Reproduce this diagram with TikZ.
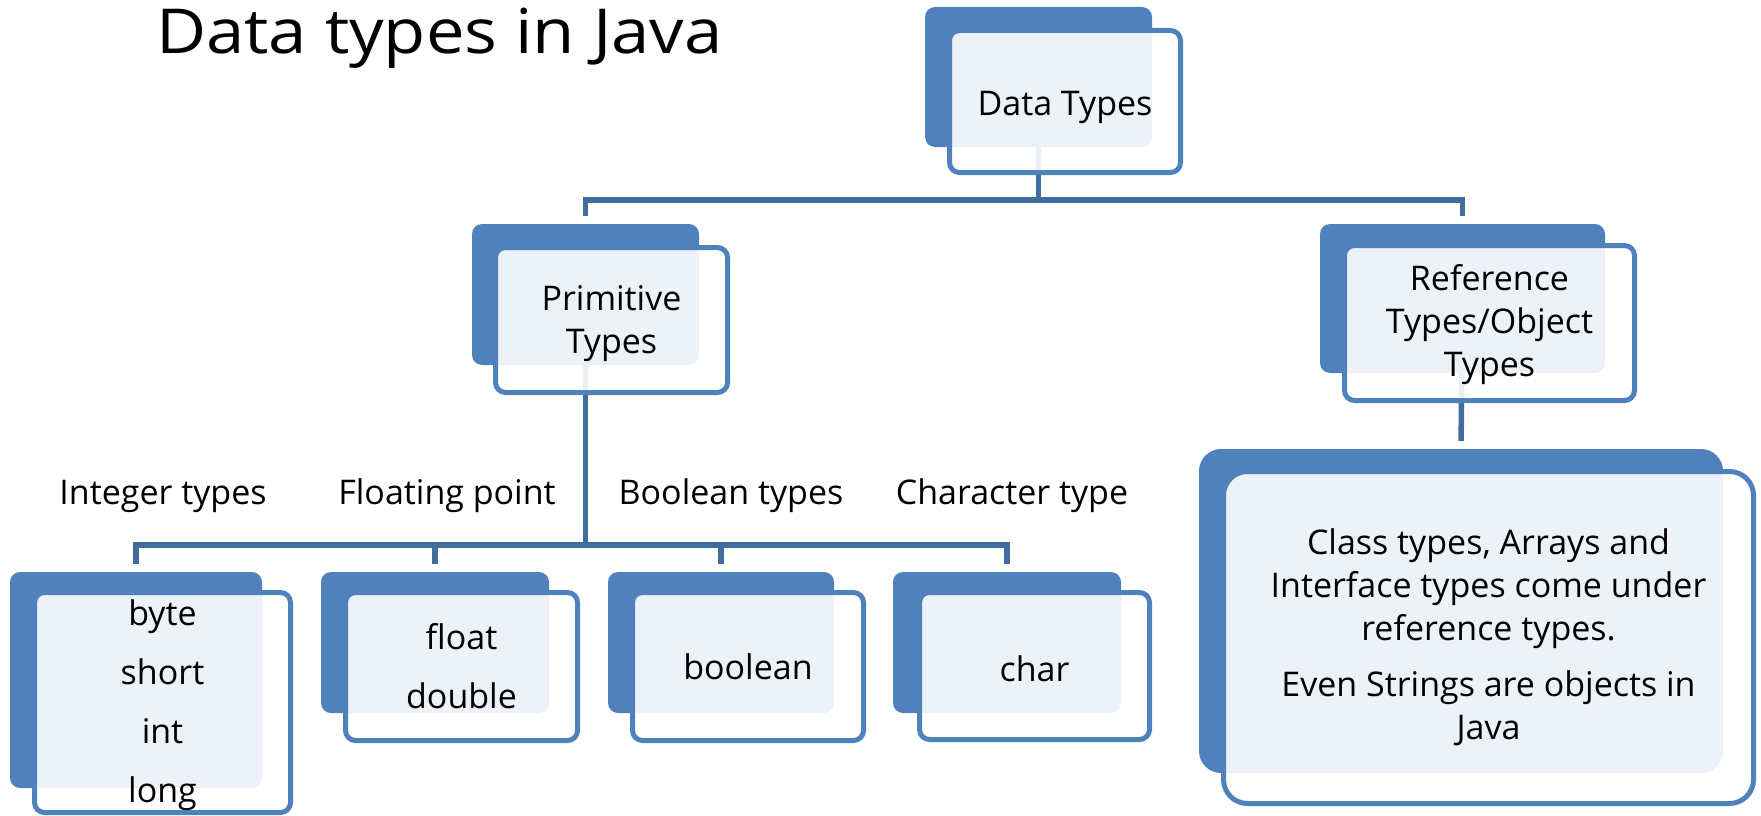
\documentclass[tikz,border=0pt]{standalone}
\usepackage{fontspec}
\setmainfont{Open Sans}
\usetikzlibrary{backgrounds}
\definecolor{ablue}{HTML}{4F81BD}
\definecolor{cblue}{HTML}{416C9F}
\begin{document}
\begin{tikzpicture}[x=1pt,y=-1pt,
  backbox/.style={fill=ablue, rounded corners=10pt, inner sep=0pt},
  frontbox/.style={draw=ablue, line width=5pt, fill=white, fill opacity=0.9, rounded corners=10pt, inner sep=0pt},
  bigback/.style={backbox, rounded corners=22pt},
  bigfront/.style={frontbox, rounded corners=24pt},
  conn/.style={draw=cblue, line width=5.5pt, shorten >=8pt},
  boxtext/.style={align=center, font=\fontsize{34}{43}\selectfont, inner sep=0pt, text=black},
  listtext/.style={align=center, font=\fontsize{34}{59}\selectfont, inner sep=0pt, text=black},
  lbl/.style={anchor=base, font=\fontsize{34}{41}\selectfont, inner sep=0pt}]
\useasboundingbox (0,0) rectangle (1761,816);

\node[anchor=base west, font=\fontsize{62}{74}\selectfont, inner sep=0pt] (title) at (156,53) {\scalebox{1.11}[1]{Data types in Java}};

% Data Types
\node[backbox, minimum width=227pt, minimum height=140pt] (dtB) at (1038.5,77) {};
\node[frontbox, minimum width=231pt, minimum height=142pt] (dtF) at (1065,101.5) {};
\node[boxtext] (dtT) at ([yshift=-6pt]dtF.center) {Data Types};

% Primitive
\node[backbox, minimum width=227pt, minimum height=141pt] (primB) at (585.5,294.5) {};
\node[frontbox, minimum width=232pt, minimum height=145pt] (primF) at (611.5,320) {};
\node[boxtext] (primT) at ([yshift=-4pt]primF.center) {Primitive\\Types};

% Reference
\node[backbox, minimum width=285pt, minimum height=149pt] (refB) at (1462.5,298.5) {};
\node[frontbox, minimum width=290pt, minimum height=155pt] (refF) at (1489.5,323) {};
\node[boxtext] (refT) at ([yshift=-2pt]refF.center) {Reference\\Types/Object\\Types};

% big box
\node[bigback, minimum width=524pt, minimum height=324pt] (bigB) at (1461,611) {};
\node[bigfront, minimum width=530pt, minimum height=332pt] (bigF) at (1488.5,637.5) {};
\node[boxtext] (bigT) at (1488.5,637) {Class types, Arrays and\\Interface types come under\\reference types.\\[13pt]Even Strings are objects in\\Java};

% leaves
\node[backbox, minimum width=252pt, minimum height=216pt] (byteB) at (136,680) {};
\node[frontbox, minimum width=256pt, minimum height=220pt] (byteF) at (162.5,702.5) {};
\node[listtext] (byteT) at ([yshift=-3pt]byteF.center) {byte\\short\\int\\long};

\node[backbox, minimum width=228pt, minimum height=141pt] (floatB) at (435,642.5) {};
\node[frontbox, minimum width=232pt, minimum height=148pt] (floatF) at (461.5,666.5) {};
\node[listtext] (floatT) at (floatF.center) {float\\double};

\node[backbox, minimum width=226pt, minimum height=141pt] (boolB) at (721,642.5) {};
\node[frontbox, minimum width=231pt, minimum height=148pt] (boolF) at (748,666.5) {};
\node[boxtext] (boolT) at (boolF.center) {boolean};

\node[backbox, minimum width=228pt, minimum height=141pt] (charB) at (1007,642.5) {};
\node[frontbox, minimum width=230pt, minimum height=147pt] (charF) at (1034.5,666) {};
\node[boxtext] (charT) at ([yshift=-3pt]charF.center) {char};

% category labels
\node[lbl] (l1) at (163,504) {Integer types};
\node[lbl] (l2) at (447,504) {Floating point};
\node[lbl] (l3) at (731,504) {Boolean types};
\node[lbl] (l4) at (1012,504) {Character type};

\coordinate (bar) at (0,200);
\coordinate (lvl) at (0,545);

\begin{scope}[on background layer]
\draw[conn] (dtB.center) -- (dtB.center |- bar) -| (primB.north);
\draw[conn] (dtB.center |- bar) -| (refB.north);
\draw[conn] (refB.center) -- (bigB.north);
\foreach \n in {byteB,floatB,boolB,charB}
  \draw[conn] (primB.center) -- (primB.center |- lvl) -| (\n.north);
\end{scope}
\end{tikzpicture}
\end{document}
